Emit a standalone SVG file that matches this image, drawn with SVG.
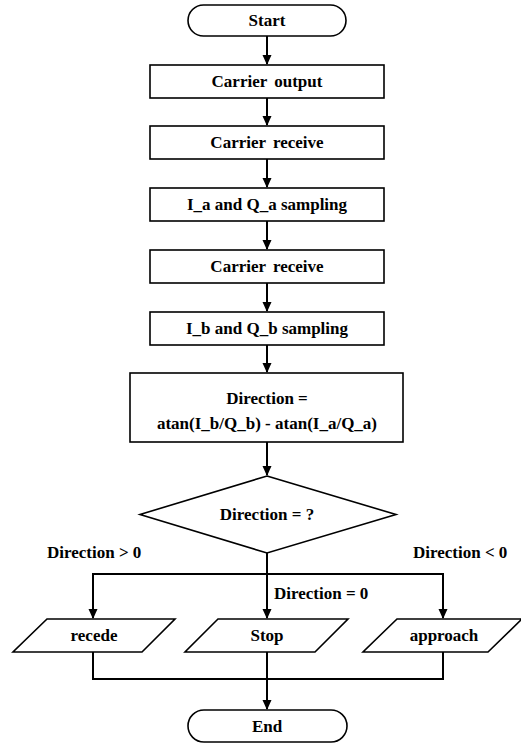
<svg xmlns="http://www.w3.org/2000/svg" width="521" height="745" viewBox="0 0 521 745">
<style>
.s{fill:#fff;stroke:#000;stroke-width:1.6}
.t{font-family:"Liberation Serif","Times New Roman",serif;font-weight:bold;font-size:17px;fill:#000;text-anchor:middle}
.l{font-family:"Liberation Serif","Times New Roman",serif;font-weight:bold;font-size:17px;fill:#000}
.c{fill:none;stroke:#000;stroke-width:2}
</style>
<defs>
<marker id="a" markerWidth="10" markerHeight="10" refX="9" refY="5" orient="auto" markerUnits="userSpaceOnUse">
<path d="M0,0.5 L10,5 L0,9.5 Z" fill="#000"/>
</marker>
</defs>
<rect width="521" height="745" fill="#fff"/>
<g id="connectors">
<path class="c" d="M267,36 V64" marker-end="url(#a)"/>
<path class="c" d="M267,98 V125" marker-end="url(#a)"/>
<path class="c" d="M267,159 V187" marker-end="url(#a)"/>
<path class="c" d="M267,221 V249" marker-end="url(#a)"/>
<path class="c" d="M267,283 V311" marker-end="url(#a)"/>
<path class="c" d="M267,345 V372" marker-end="url(#a)"/>
<path class="c" d="M267,442 V475" marker-end="url(#a)"/>
<path class="c" d="M267,553 V618" marker-end="url(#a)"/>
<path class="c" d="M93,618 V574 H443 V618" marker-end="url(#a)"/>
<path class="c" d="M93,574 V618" marker-end="url(#a)"/>
<path class="c" d="M93,652 V679 H443 V652"/>
<path class="c" d="M267,652 V709" marker-end="url(#a)"/>
</g>
<g id="start">
<rect class="s" x="188" y="5" width="158" height="31" rx="15.5"/>
<text class="t" x="267" y="26">Start</text>
</g>
<g id="carrier-output">
<rect class="s" x="150" y="65" width="234" height="33"/>
<text class="t" x="267" y="87" word-spacing="3">Carrier output</text>
</g>
<g id="carrier-receive-1">
<rect class="s" x="150" y="126" width="234" height="33"/>
<text class="t" x="267" y="148" word-spacing="3">Carrier receive</text>
</g>
<g id="ia-qa-sampling">
<rect class="s" x="150" y="188" width="234" height="33"/>
<text class="t" x="267" y="210">I_a and Q_a sampling</text>
</g>
<g id="carrier-receive-2">
<rect class="s" x="150" y="250" width="234" height="33"/>
<text class="t" x="267" y="272" word-spacing="3">Carrier receive</text>
</g>
<g id="ib-qb-sampling">
<rect class="s" x="150" y="312" width="234" height="33"/>
<text class="t" x="267" y="334">I_b and Q_b sampling</text>
</g>
<g id="direction-calc">
<rect class="s" x="130" y="373" width="273" height="69"/>
<text class="t" x="267" y="404">Direction =</text>
<text class="t" x="267" y="429">atan(I_b/Q_b) - atan(I_a/Q_a)</text>
</g>
<g id="decision">
<polygon class="s" points="267,476 396,514.5 267,553 140,514.5"/>
<text class="t" x="267" y="520">Direction = ?</text>
</g>
<g id="labels">
<text class="l" x="47" y="558">Direction &gt; 0</text>
<text class="l" x="413" y="558">Direction &lt; 0</text>
<text class="l" x="274" y="599">Direction = 0</text>
</g>
<g id="recede">
<polygon class="s" points="47,619 175,619 142,652 13,652"/>
<text class="t" x="94" y="641">recede</text>
</g>
<g id="stop">
<polygon class="s" points="218,619 348,619 315,652 185,652"/>
<text class="t" x="267" y="641">Stop</text>
</g>
<g id="approach">
<polygon class="s" points="397,619 522,619 488,652 363,652"/>
<text class="t" x="444" y="641">approach</text>
</g>
<g id="end">
<rect class="s" x="188" y="710" width="159" height="32" rx="16"/>
<text class="t" x="267" y="732">End</text>
</g>
</svg>
